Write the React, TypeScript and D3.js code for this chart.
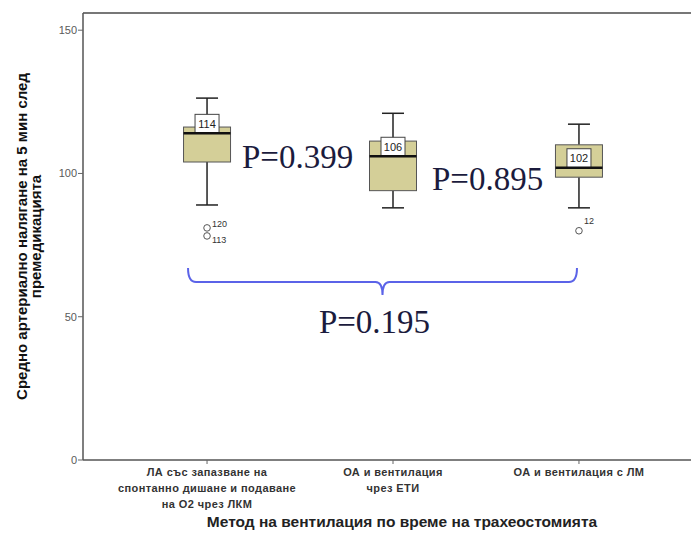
import React from "react";
import * as d3 from "d3";

// Groups: ventilation method during tracheostomy
const categories: string[][] = [
  ["ЛА със запазване на", "спонтанно дишане и подаване", "на О2 чрез ЛКМ"],
  ["ОА и вентилация", "чрез ЕТИ"],
  ["ОА и вентилация  с ЛМ"],
];

// Box plot statistics per group (mean arterial pressure, mmHg)
const whiskerLow = [89, 88, 88];
const q1 = [104, 94, 98.7];
const median = [114, 106, 102];
const q3 = [116.2, 111.3, 110];
const whiskerHigh = [126.3, 121, 117.2];

// Outliers: group index, value, case number
const outlierGroup = [0, 0, 2];
const outlierValue = [81, 78.2, 80];
const outlierCase = ["120", "113", "12"];

const yTicks = [0, 50, 100, 150];

const pLabels = ["P=0.399", "P=0.895", "P=0.195"];

const yTitle = ["Средно артериално налягане на 5 мин след", "премедикацията"];
const xTitle = "Метод на вентилация по време на трахеостомията";

const W = 691;
const H = 536;
const left = 83;
const top = 13;
const bottom = 460;
const rightEdge = 703;

export default function App() {
  const idx = categories.map((_, i) => i);
  const x = d3.scalePoint<number>().domain(idx).range([left, rightEdge]).padding(0.667);
  const y = d3.scaleLinear().domain([0, 156]).range([bottom, top]);

  const boxW = 47;
  const capW = 22;
  const sans = "'Liberation Sans', Arial, sans-serif";
  const serif = "'Liberation Serif', 'Times New Roman', serif";

  const bx0 = x(0)! - 19;
  const bx2 = x(2)! - 2;
  const bmid = (bx0 + bx2) / 2;
  const by = 282;
  const bracePath = `M${bx0},268 Q${bx0},${by} ${bx0 + 8},${by} L${bmid - 7},${by} Q${bmid},${by} ${bmid},295 Q${bmid},${by} ${bmid + 7},${by} L${bx2 - 8},${by} Q${bx2},${by} ${bx2},268`;

  // small vertical nudges so the two stacked case labels of group 0 do not collide
  const caseDy = [-4, 4, -10];

  return (
    <svg width={W} height={H} style={{ position: "absolute", left: 0, top: 0, background: "#fff" }}>
      {/* frame */}
      <line x1={left} x2={W} y1={top} y2={top} stroke="#777" strokeWidth={2} />
      <line x1={left} x2={left} y1={top} y2={bottom} stroke="#555" strokeWidth={1.5} />
      <line x1={left} x2={W} y1={bottom} y2={bottom} stroke="#555" strokeWidth={1.5} />

      {/* y axis ticks */}
      {yTicks.map((t) => (
        <g key={t}>
          <line x1={left - 5} x2={left} y1={y(t)} y2={y(t)} stroke="#666" strokeWidth={1} />
          <text x={left - 6} y={y(t)} dy="0.35em" textAnchor="end" fontFamily={sans} fontSize={11} fill="#5a5a5a">
            {t}
          </text>
        </g>
      ))}

      {/* x axis ticks and labels */}
      {categories.map((lines, i) => (
        <g key={i}>
          <line x1={x(i)} x2={x(i)} y1={bottom} y2={bottom + 4} stroke="#666" strokeWidth={1} />
          {lines.map((ln, j) => (
            <text
              key={j}
              x={x(i)}
              y={bottom + 12 + j * 16}
              dy="0.35em"
              textAnchor="middle"
              fontFamily={sans}
              fontWeight="bold"
              fontSize={11}
              letterSpacing={0.4}
              fill="#333"
            >
              {ln}
            </text>
          ))}
        </g>
      ))}

      {/* boxes */}
      {idx.map((i) => {
        const cx = x(i)!;
        return (
          <g key={i}>
            <line x1={cx} x2={cx} y1={y(whiskerHigh[i])} y2={y(q3[i])} stroke="#222" strokeWidth={1.5} />
            <line x1={cx} x2={cx} y1={y(q1[i])} y2={y(whiskerLow[i])} stroke="#222" strokeWidth={1.5} />
            <line x1={cx - capW / 2} x2={cx + capW / 2} y1={y(whiskerHigh[i])} y2={y(whiskerHigh[i])} stroke="#222" strokeWidth={1.5} />
            <line x1={cx - capW / 2} x2={cx + capW / 2} y1={y(whiskerLow[i])} y2={y(whiskerLow[i])} stroke="#222" strokeWidth={1.5} />
            <rect
              x={cx - boxW / 2}
              y={y(q3[i])}
              width={boxW}
              height={y(q1[i]) - y(q3[i])}
              fill="#d4cf98"
              stroke="#555"
              strokeWidth={1}
            />
            {/* median value tag */}
            <rect x={cx - 12} y={y(median[i]) - 19} width={24} height={19} fill="#fff" stroke="#444" strokeWidth={1} />
            <text x={cx} y={y(median[i]) - 9.5} dy="0.35em" textAnchor="middle" fontFamily={sans} fontSize={11} fill="#222">
              {Math.round(median[i])}
            </text>
            <line x1={cx - boxW / 2} x2={cx + boxW / 2} y1={y(median[i])} y2={y(median[i])} stroke="#111" strokeWidth={2.5} />
          </g>
        );
      })}

      {/* outliers */}
      {outlierValue.map((v, k) => {
        const cx = x(outlierGroup[k])!;
        return (
          <g key={k}>
            <circle cx={cx} cy={y(v)} r={3.3} fill="#fff" stroke="#555" strokeWidth={1} />
            <text x={cx + 5} y={y(v) + caseDy[k]} dy="0.35em" fontFamily={sans} fontSize={9} fill="#333">
              {outlierCase[k]}
            </text>
          </g>
        );
      })}

      {/* significance annotations */}
      <text x={242} y={168} fontFamily={serif} fontSize={33} fill="#1b1b3d">
        {pLabels[0]}
      </text>
      <text x={432} y={190} fontFamily={serif} fontSize={33} fill="#1b1b3d">
        {pLabels[1]}
      </text>
      <path d={bracePath} fill="none" stroke="#5b63e8" strokeWidth={2} />
      <text x={bmid - 8} y={333} textAnchor="middle" fontFamily={serif} fontSize={33} fill="#1b1b3d">
        {pLabels[2]}
      </text>

      {/* axis titles */}
      <g transform={`translate(0, ${(top + bottom) / 2}) rotate(-90)`}>
        {yTitle.map((ln, j) => (
          <text
            key={j}
            x={0}
            y={22 + j * 14}
            dy="0.35em"
            textAnchor="middle"
            fontFamily={sans}
            fontWeight="bold"
            fontSize={15}
            fill="#111"
          >
            {ln}
          </text>
        ))}
      </g>
      <text x={402} y={522} dy="0.35em" textAnchor="middle" fontFamily={sans} fontWeight="bold" fontSize={15.5} fill="#222">
        {xTitle}
      </text>
    </svg>
  );
}
